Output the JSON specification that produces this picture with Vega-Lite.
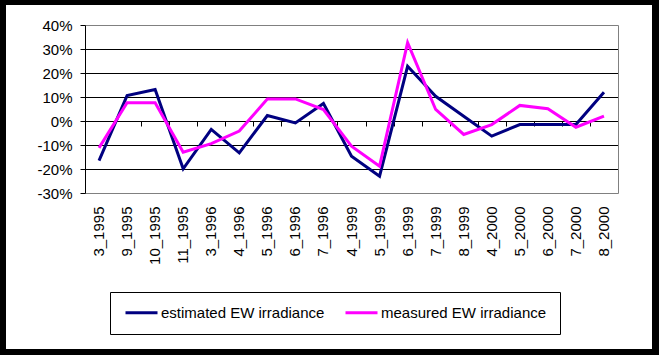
{
  "$schema": "https://vega.github.io/schema/vega-lite/v6.json",
  "width": 646,
  "height": 344,
  "autosize": {"type": "none"},
  "padding": {"left": 6, "top": 5, "right": 7, "bottom": 6},
  "background": "black",
  "config": {
    "view": {"fill": "white", "stroke": null},
    "font": "Liberation Sans",
    "axis": {"labelFont": "Liberation Sans", "labelFontSize": 15, "labelColor": "black"}
  },
  "data": {
    "values": [
      {"period": "3_1995", "series": "estimated EW irradiance", "value": -16.5},
      {"period": "9_1995", "series": "estimated EW irradiance", "value": 10.6},
      {"period": "10_1995", "series": "estimated EW irradiance", "value": 13.1},
      {"period": "11_1995", "series": "estimated EW irradiance", "value": -19.9},
      {"period": "3_1996", "series": "estimated EW irradiance", "value": -3.5},
      {"period": "4_1996", "series": "estimated EW irradiance", "value": -13.3},
      {"period": "5_1996", "series": "estimated EW irradiance", "value": 2.3},
      {"period": "6_1996", "series": "estimated EW irradiance", "value": -0.8},
      {"period": "7_1996", "series": "estimated EW irradiance", "value": 7.3},
      {"period": "4_1999", "series": "estimated EW irradiance", "value": -14.7},
      {"period": "5_1999", "series": "estimated EW irradiance", "value": -23.0},
      {"period": "6_1999", "series": "estimated EW irradiance", "value": 22.8},
      {"period": "7_1999", "series": "estimated EW irradiance", "value": 10.3},
      {"period": "8_1999", "series": "estimated EW irradiance", "value": 2.0},
      {"period": "4_2000", "series": "estimated EW irradiance", "value": -6.3},
      {"period": "5_2000", "series": "estimated EW irradiance", "value": -1.5},
      {"period": "6_2000", "series": "estimated EW irradiance", "value": -1.5},
      {"period": "7_2000", "series": "estimated EW irradiance", "value": -1.5},
      {"period": "8_2000", "series": "estimated EW irradiance", "value": 12.0},
      {"period": "3_1995", "series": "measured EW irradiance", "value": -11.2},
      {"period": "9_1995", "series": "measured EW irradiance", "value": 7.6},
      {"period": "10_1995", "series": "measured EW irradiance", "value": 7.6},
      {"period": "11_1995", "series": "measured EW irradiance", "value": -13.0},
      {"period": "3_1996", "series": "measured EW irradiance", "value": -9.4},
      {"period": "4_1996", "series": "measured EW irradiance", "value": -4.2},
      {"period": "5_1996", "series": "measured EW irradiance", "value": 9.2},
      {"period": "6_1996", "series": "measured EW irradiance", "value": 9.2},
      {"period": "7_1996", "series": "measured EW irradiance", "value": 4.8},
      {"period": "4_1999", "series": "measured EW irradiance", "value": -10.5},
      {"period": "5_1999", "series": "measured EW irradiance", "value": -18.8},
      {"period": "6_1999", "series": "measured EW irradiance", "value": 32.6},
      {"period": "7_1999", "series": "measured EW irradiance", "value": 4.8},
      {"period": "8_1999", "series": "measured EW irradiance", "value": -5.6},
      {"period": "4_2000", "series": "measured EW irradiance", "value": -1.5},
      {"period": "5_2000", "series": "measured EW irradiance", "value": 6.5},
      {"period": "6_2000", "series": "measured EW irradiance", "value": 5.1},
      {"period": "7_2000", "series": "measured EW irradiance", "value": -2.6},
      {"period": "8_2000", "series": "measured EW irradiance", "value": 2.0}
    ]
  },
  "resolve": {"axis": {"x": "independent", "y": "independent"}},
  "layer": [
    {
      "mark": {"type": "point", "opacity": 0},
      "encoding": {
        "x": {
          "field": "period", "type": "ordinal", "sort": null,
          "scale": {"type": "band", "range": [79, 612], "paddingInner": 0, "paddingOuter": 0},
          "axis": {"orient": "bottom", "offset": -228, "title": null, "labels": false, "domain": false, "grid": false,
                   "ticks": true, "tickBand": "extent", "tickSize": 5, "tickColor": "black", "tickWidth": 1}
        },
        "y": {
          "field": "value", "type": "quantitative",
          "scale": {"domain": [-30, 40], "range": [188, 20], "nice": false, "zero": false},
          "axis": {"orient": "right", "offset": -34, "title": null, "labels": false, "ticks": false, "grid": false,
                   "domain": true, "domainColor": "#808080", "domainWidth": 1}
        }
      }
    },
    {
      "mark": {"type": "line", "strokeWidth": 3},
      "encoding": {
        "x": {
          "field": "period", "type": "ordinal", "sort": null, "bandPosition": 0.5,
          "axis": {"orient": "bottom", "offset": -156, "title": null, "labelAngle": -90, "labelPadding": 13,
                   "ticks": false, "domain": false, "grid": false, "labelOverlap": false}
        },
        "y": {
          "field": "value", "type": "quantitative",
          "axis": {"orient": "left", "offset": -79, "title": null, "values": [-30, -20, -10, 0, 10, 20, 30, 40],
                   "labelExpr": "datum.value + '%'", "labelPadding": 8, "tickSize": 5, "tickColor": "black",
                   "domainColor": "black", "grid": true,
                   "gridColor": {"condition": {"test": "datum.value == 40 || datum.value == -30", "value": "#808080"}, "value": "black"},
                   "gridOpacity": 1, "gridWidth": 1}
        },
        "color": {
          "field": "series", "type": "nominal",
          "scale": {"domain": ["estimated EW irradiance", "measured EW irradiance"], "range": ["#000080", "#FF00FF"]},
          "legend": {
            "title": null, "orient": "none", "legendX": 104, "legendY": 287, "direction": "horizontal", "columns": 2,
            "strokeColor": "black", "fillColor": "white", "padding": 13, "clipHeight": 15,
            "symbolType": "stroke", "symbolSize": 1024, "symbolStrokeWidth": 3, "symbolOffset": 1,
            "labelFont": "Liberation Sans", "labelFontSize": 15, "labelColor": "black", "labelLimit": 300,
            "labelOffset": 2, "columnPadding": 18
          }
        }
      }
    }
  ]
}
